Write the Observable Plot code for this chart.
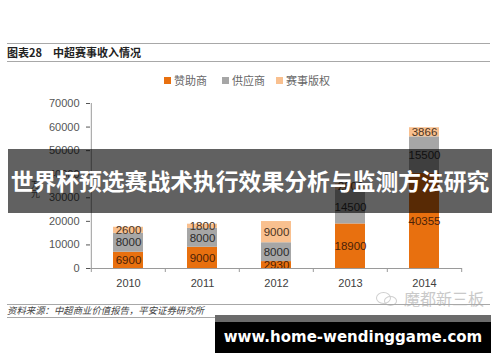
<!DOCTYPE html>
<html><head><meta charset="utf-8">
<script src="https://cdn.jsdelivr.net/npm/d3@7"></script>
<script src="https://cdn.jsdelivr.net/npm/@observablehq/plot@0.6"></script>
<style>
body{margin:0;background:#fff;}
#wrap{position:relative;width:500px;height:362px;overflow:hidden;font-family:"Noto Sans CJK SC",sans-serif;background:#fff;}
#chart{position:absolute;left:0;top:0;}
.hr{position:absolute;left:7px;width:483px;height:0;border-top:1.5px solid #a8a8a8;}
#title{position:absolute;left:7px;top:45px;font-size:11px;line-height:14px;font-weight:bold;color:#222;white-space:nowrap;}
#title span{margin-right:11px;}
.lg{position:absolute;top:73px;font-size:11px;line-height:14px;color:#666;white-space:nowrap;}
.lg i{display:inline-block;width:7px;height:7px;margin-right:3px;vertical-align:1px;}
#yl{position:absolute;left:30px;top:180px;font-size:9px;line-height:10px;color:#595959;writing-mode:vertical-rl;text-orientation:upright;}
#src{position:absolute;left:7px;top:304px;font-size:9.4px;line-height:12px;font-style:italic;color:#444;white-space:nowrap;}
#wm{position:absolute;left:404px;top:290px;font-size:16px;line-height:16px;color:#c9c9c9;white-space:nowrap;}
.eye{position:absolute;border:1.2px solid #cfcfcf;border-radius:50%;}
#banner{position:absolute;left:8px;top:149px;width:484px;height:64px;background:rgba(0,0,0,0.62);color:#fff;font-weight:bold;font-size:22.8px;line-height:64px;text-align:center;white-space:nowrap;}
#box{position:absolute;left:215px;top:315px;width:276px;height:38px;background:#000;}
#box .strip{height:7px;background:#6b6b6b;}
#box .url{height:31px;line-height:31px;text-align:center;color:#fff;font-family:"DejaVu Sans",sans-serif;font-weight:bold;font-size:15px;white-space:nowrap;}
</style></head>
<body>
<div id="wrap">
  <div id="chart"></div>
  <div class="hr" style="top:43px"></div>
  <div id="title"><span>图表28</span>中超赛事收入情况</div>
  <div class="hr" style="top:61px"></div>
  <div id="legend"></div>
  <div id="yl">万元</div>
  <div class="eye" style="left:376px;top:292px;width:13px;height:10px"></div>
  <div class="eye" style="left:384px;top:296px;width:11px;height:8px"></div>
  <div id="wm">魔都新三板</div>
  <div class="hr" style="top:304px"></div>
  <div id="src">资料来源：中超商业价值报告，平安证券研究所</div>
  <div class="hr" style="top:317px"></div>
  <div id="banner">世界杯预选赛战术执行效果分析与监测方法研究</div>
  <div id="box"><div class="strip"></div><div class="url">www.home-wendinggame.com</div></div>
</div>
<script>
const years = ["2010", "2011", "2012", "2013", "2014"];
const seriesNames = ["赞助商", "供应商", "赛事版权"];
const sponsor = [6900, 9000, 2930, 18900, 40355];
const supplier = [8000, 8000, 8000, 14500, 15500];
const rights = [2600, 1800, 9000, 2600, 3866];
const yTicks = [0, 10000, 20000, 30000, 40000, 50000, 60000, 70000];

const fillOf = {"赞助商": "#E8700F", "供应商": "#A6A6A6", "赛事版权": "#F9C08F"};
const labelOf = {"赞助商": "#4a2208", "供应商": "#2b2b2b", "赛事版权": "#4a3422"};
const legendLeft = {"赞助商": 164, "供应商": 222, "赛事版权": 276};

const seriesValues = [sponsor, supplier, rights];
const rows = years.flatMap((year, i) => seriesNames.map((s, j) => ({year, series: s, value: seriesValues[j][i]})));

const half = 37.2;
const axisColor = "#9a9a9a";
const chart = Plot.plot({
  width: 500, height: 300,
  marginLeft: 90, marginRight: 38, marginTop: 103, marginBottom: 32,
  style: {fontFamily: '"Liberation Sans", Arial, sans-serif', fontSize: "11px", background: "transparent", color: "#4a4a4a"},
  x: {type: "band", domain: years, paddingInner: 0.6, paddingOuter: 0.3},
  y: {domain: [0, 70000]},
  color: {type: "identity"},
  marks: [
    Plot.barY(rows, Plot.stackY({x: "year", y: "value", z: "series", fill: d => fillOf[d.series]})),
    Plot.text(rows, Plot.stackY({x: "year", y: "value", z: "series", text: d => String(d.value), fill: d => labelOf[d.series], fontSize: 11.5})),
    Plot.ruleY([0], {stroke: axisColor}),
    Plot.ruleX([years[0]], {x: d => d, dx: -half, y1: 0, y2: 70000, stroke: axisColor}),
    Plot.ruleX(years, {x: d => d, dx: -half, y1: 0, y2: -1700, stroke: axisColor}),
    Plot.ruleX([years[years.length - 1]], {x: d => d, dx: half, y1: 0, y2: -1700, stroke: axisColor}),
    Plot.axisY({ticks: yTicks, tickSize: 4, tickPadding: 7, tickFormat: d => String(d), label: null, color: "#555"}),
    Plot.axisX({tickSize: 0, tickPadding: 11, label: null, color: "#404040"})
  ]
});
document.getElementById("chart").appendChild(chart);

const lg = document.getElementById("legend");
seriesNames.forEach(s => {
  const d = document.createElement("div");
  d.className = "lg";
  d.style.left = legendLeft[s] + "px";
  d.innerHTML = `<i style="background:${fillOf[s]}"></i>${s}`;
  lg.appendChild(d);
});
</script>
</body></html>
